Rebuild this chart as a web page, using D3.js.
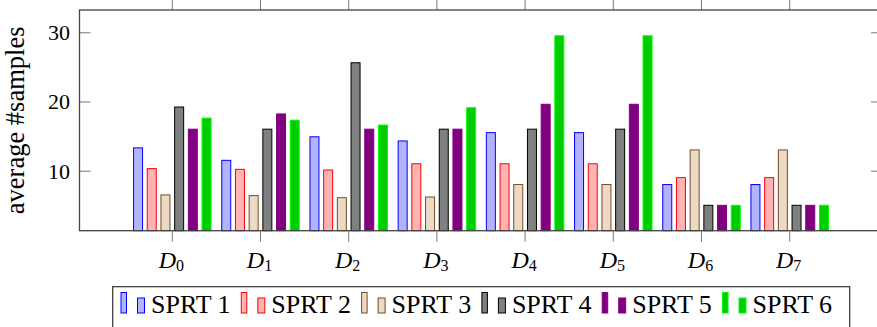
<!DOCTYPE html>
<html>
<head>
<meta charset="utf-8">
<script src="https://cdn.jsdelivr.net/npm/d3@7"></script>
<style>
  body { margin: 0; background: #fff; }
  svg { display: block; }
</style>
</head>
<body>
<svg id="chart" width="877" height="327"></svg>
<script>
// categories (D_0 .. D_7)
var categories = ["0", "1", "2", "3", "4", "5", "6", "7"];
var seriesNames = ["SPRT 1", "SPRT 2", "SPRT 3", "SPRT 4", "SPRT 5", "SPRT 6"];
var yTicks = [10, 20, 30];

// average #samples per series, one value per category
var sprt1 = [13.3, 11.5, 14.9, 14.3, 15.5, 15.5, 8, 8];
var sprt2 = [10.3, 10.2, 10.1, 11, 11, 11, 9, 9];
var sprt3 = [6.5, 6.4, 6.1, 6.2, 8, 8, 13, 13];
var sprt4 = [19.2, 16, 25.6, 16, 16, 16, 5, 5];
var sprt5 = [16, 18.2, 16, 16, 19.6, 19.6, 5, 5];
var sprt6 = [17.6, 17.3, 16.6, 19.1, 29.5, 29.5, 5, 5];

var values = [sprt1, sprt2, sprt3, sprt4, sprt5, sprt6];
var fills = ["#b3b3ff", "#ffb3b3", "#ecd9c6", "#808080", "#800080", "#00cc00"];
var strokes = ["#0000ff", "#ff0000", "#734d26", "#000000", "#800080", "#00ff00"];

var FONT = "'Liberation Serif', Tinos, 'Times New Roman', 'DejaVu Serif', serif";

function drawChart() {
  var svg = d3.select('#chart');
  var left = 79.5, right = 882, plotTop = 10, plotBottom = 230.7;

  var x = d3.scaleBand().domain(categories).range([128.2, 833.8]);
  var xs = d3.scaleBand().domain(seriesNames).range([-41.1, 41.1])
    .paddingInner(0.343).paddingOuter(0.1715);
  var y = d3.scaleLinear().domain([1.33, 33.22]).range([plotBottom, plotTop]);

  function cx(c) { return x(c) + x.bandwidth() / 2; }

  // bars
  var data = [];
  categories.forEach(function (c, i) {
    seriesNames.forEach(function (s, j) {
      data.push({ cat: c, s: s, j: j, v: values[j][i] });
    });
  });

  svg.append('g').selectAll('rect')
    .data(data)
    .enter()
    .append('rect')
    .attr('x', function (d) { return cx(d.cat) + xs(d.s); })
    .attr('width', xs.bandwidth())
    .attr('y', function (d) { return y(d.v); })
    .attr('height', function (d) { return y.range()[0] - y(d.v); })
    .attr('fill', function (d) { return fills[d.j]; })
    .attr('stroke', function (d) { return strokes[d.j]; })
    .attr('stroke-width', 1);

  // y axis, ticks pointing inward on both sides
  var yAxisL = svg.append('g').attr('transform', 'translate(' + left + ',0)')
    .call(d3.axisLeft(y).tickValues(yTicks).tickSize(-11));
  var yAxisR = svg.append('g').attr('transform', 'translate(' + right + ',0)')
    .call(d3.axisRight(y).tickValues(yTicks).tickSize(-11).tickFormat(''));
  [yAxisL, yAxisR].forEach(function (a) {
    a.select('.domain').remove();
    a.selectAll('line').attr('stroke', '#777');
  });
  yAxisL.attr('font-family', null).attr('font-size', null);
  yAxisL.selectAll('text')
    .style('font-family', FONT)
    .style('font-size', '22px')
    .attr('fill', '#000')
    .attr('dy', '0.34em')
    .attr('x', -9.5);

  // x ticks, pointing outward top and bottom
  var xAxisB = svg.append('g').attr('transform', 'translate(0,' + plotBottom + ')')
    .call(d3.axisBottom(x).tickSize(11).tickFormat(''));
  var xAxisT = svg.append('g').attr('transform', 'translate(0,' + plotTop + ')')
    .call(d3.axisTop(x).tickSize(11).tickFormat(''));
  [xAxisB, xAxisT].forEach(function (a) {
    a.select('.domain').remove();
    a.selectAll('line').attr('stroke', '#777');
  });

  // x tick labels D_i
  var lab = svg.append('g').selectAll('text')
    .data(categories)
    .enter()
    .append('text')
    .attr('x', function (d) { return cx(d) - 1; })
    .attr('y', 268)
    .attr('text-anchor', 'middle')
    .style('font-family', FONT)
    .style('font-size', '24px')
    .attr('fill', '#000');
  lab.append('tspan').style('font-style', 'italic').text('D');
  lab.append('tspan').style('font-size', '16px').attr('dy', 3).text(function (d) { return d; });

  // frame
  svg.append('rect')
    .attr('x', left).attr('y', plotTop)
    .attr('width', right - left).attr('height', plotBottom - plotTop)
    .attr('fill', 'none')
    .attr('stroke', '#444')
    .attr('stroke-width', 1.3);

  // y label
  svg.append('text')
    .attr('transform', 'translate(24,' + ((plotTop + plotBottom) / 2) + ') rotate(-90)')
    .attr('text-anchor', 'middle')
    .style('font-family', FONT)
    .style('font-size', '26.5px')
    .attr('fill', '#000')
    .text('average #samples');

  // legend
  var legend = svg.append('g');
  legend.append('rect')
    .attr('x', 112.7).attr('y', 286.7)
    .attr('width', 737).attr('height', 60)
    .attr('fill', '#fff')
    .attr('stroke', '#333')
    .attr('stroke-width', 1.2);

  var item = legend.selectAll('g.item')
    .data(seriesNames)
    .enter()
    .append('g')
    .attr('class', 'item')
    .attr('transform', function (d, i) { return 'translate(' + (121 + 120.3 * i) + ',0)'; });
  item.append('rect')
    .attr('x', 0).attr('y', 292.5).attr('width', 5.5).attr('height', 20.5)
    .attr('fill', function (d, i) { return fills[i]; })
    .attr('stroke', function (d, i) { return strokes[i]; });
  item.append('rect')
    .attr('x', 16.5).attr('y', 298).attr('width', 7).attr('height', 15)
    .attr('fill', function (d, i) { return fills[i]; })
    .attr('stroke', function (d, i) { return strokes[i]; });
  item.append('text')
    .attr('x', 30).attr('y', 313)
    .style('font-family', FONT)
    .style('font-size', '26px')
    .attr('fill', '#000')
    .text(function (d) { return d; });
}

drawChart();
</script>
</body>
</html>
